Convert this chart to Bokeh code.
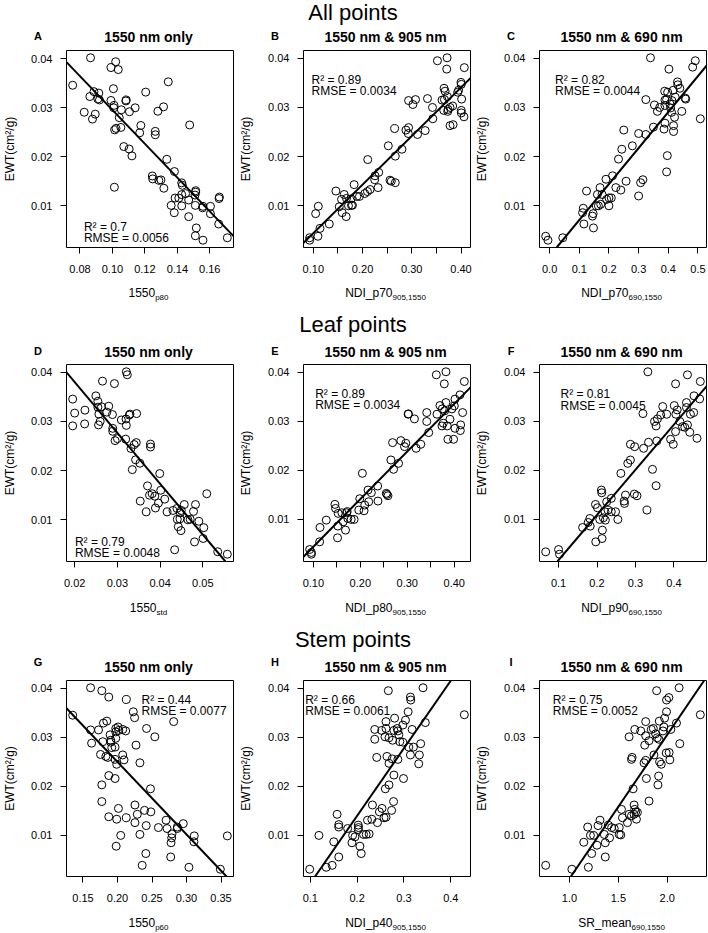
import html
from bokeh.plotting import figure
from bokeh.layouts import column, row
from bokeh.models import Range1d, FixedTicker, NumeralTickFormatter, Label, Slope, Div
from bokeh.embed import file_html
from bokeh.resources import INLINE

# ---------------- data ----------------
A_pts = [(0.0755,0.0346),(0.0865,0.0402),(0.0861,0.0323),(0.0886,0.0333),(0.0916,0.0330),(0.0920,0.0316),
         (0.0910,0.0318),(0.0826,0.0291),(0.0877,0.0277),(0.0894,0.0287),(0.0991,0.0382),(0.1020,0.0394),
         (0.1036,0.0378),(0.1006,0.0339),(0.0991,0.0315),(0.1010,0.0305),(0.1008,0.0300),(0.1085,0.0316),
         (0.1083,0.0314),(0.1055,0.0296),(0.1042,0.0280),(0.1105,0.0292),(0.1140,0.0300),(0.1014,0.0255),
         (0.1022,0.0258),(0.1052,0.0260),(0.1070,0.0221),(0.1103,0.0216),(0.1120,0.0202),(0.1012,0.0138),
         (0.1175,0.0264),(0.1168,0.0249),(0.1205,0.0332),(0.1315,0.0302),(0.1344,0.0353),(0.1280,0.0293),
         (0.1264,0.0252),(0.1264,0.0245),(0.1476,0.0265),(0.1335,0.0195),(0.1246,0.0161),(0.1248,0.0155),
         (0.1286,0.0152),(0.1299,0.0153),(0.1317,0.0136),(0.1382,0.0170),(0.1427,0.0147),(0.1431,0.0142),
         (0.1386,0.0116),(0.1409,0.0116),(0.1427,0.0123),(0.1451,0.0125),(0.1362,0.0101),(0.1381,0.0086),
         (0.1427,0.0100),(0.1470,0.0112),(0.1470,0.0078),(0.1513,0.0131),(0.1513,0.0128),(0.1509,0.0122),
         (0.1511,0.0101),(0.1556,0.0096),(0.1558,0.0099),(0.1604,0.0099),(0.1604,0.0084),(0.1657,0.0115),
         (0.1659,0.0118),(0.1655,0.0063),(0.1517,0.0055),(0.1511,0.0039),(0.1558,0.0030),(0.1708,0.0035)]

B_pts = [(0.0926,0.0030),(0.0926,0.0035),(0.1094,0.0038),(0.1135,0.0054),(0.1047,0.0084),(0.1101,0.0099),
         (0.1324,0.0063),(0.1458,0.0130),(0.1526,0.0098),(0.1586,0.0086),(0.1667,0.0078),(0.1573,0.0113),
         (0.1627,0.0123),(0.1674,0.0115),(0.1714,0.0100),(0.1775,0.0101),(0.1795,0.0101),(0.1768,0.0114),
         (0.1829,0.0143),(0.1883,0.0119),(0.1937,0.0119),(0.2045,0.0125),(0.2099,0.0129),(0.2153,0.0133),
         (0.2105,0.0194),(0.2247,0.0153),(0.2254,0.0161),(0.2328,0.0168),(0.2315,0.0137),(0.2557,0.0152),
         (0.2584,0.0150),(0.2665,0.0147),(0.2523,0.0222),(0.2651,0.0257),(0.2665,0.0201),(0.2800,0.0215),
         (0.2881,0.0254),(0.2935,0.0259),(0.2928,0.0247),(0.2935,0.0314),(0.3022,0.0306),(0.3076,0.0316),
         (0.3117,0.0245),(0.3272,0.0253),(0.3319,0.0318),(0.3420,0.0300),(0.3427,0.0277),(0.3521,0.0395),
         (0.3615,0.0315),(0.3656,0.0339),(0.3676,0.0333),(0.3663,0.0316),(0.3649,0.0294),(0.3717,0.0401),
         (0.3710,0.0378),(0.3723,0.0322),(0.3730,0.0292),(0.3737,0.0296),(0.3777,0.0300),(0.3777,0.0263),
         (0.3838,0.0265),(0.3831,0.0303),(0.3932,0.0331),(0.3952,0.0335),(0.3999,0.0351),(0.4006,0.0347),
         (0.4013,0.0317),(0.4006,0.0294),(0.4006,0.0289),(0.4060,0.0281),(0.4067,0.0381)]

C_pts = [(-0.0133,0.0038),(-0.0056,0.0030),(0.0444,0.0035),(0.1133,0.0095),(0.1111,0.0086),(0.1156,0.0063),
         (0.1244,0.0130),(0.1467,0.0084),(0.1444,0.0079),(0.1478,0.0055),(0.1611,0.0123),(0.1700,0.0137),
         (0.1578,0.0100),(0.1644,0.0100),(0.1722,0.0103),(0.1767,0.0123),(0.1900,0.0154),(0.1922,0.0113),
         (0.2000,0.0116),(0.2078,0.0116),(0.2000,0.0100),(0.2122,0.0161),(0.2233,0.0137),(0.2400,0.0132),
         (0.2578,0.0150),(0.2322,0.0195),(0.2433,0.0215),(0.2500,0.0254),(0.2789,0.0222),(0.3000,0.0120),
         (0.3067,0.0147),(0.3144,0.0153),(0.3000,0.0247),(0.3244,0.0245),(0.3244,0.0316),(0.3400,0.0401),
         (0.3500,0.0260),(0.3533,0.0305),(0.3633,0.0292),(0.3711,0.0300),(0.3856,0.0256),(0.3889,0.0268),
         (0.3889,0.0304),(0.3889,0.0315),(0.3878,0.0333),(0.3944,0.0316),(0.3978,0.0331),(0.4022,0.0378),
         (0.4056,0.0307),(0.4078,0.0299),(0.4111,0.0290),(0.4122,0.0314),(0.4167,0.0335),(0.4178,0.0251),
         (0.4178,0.0263),(0.4211,0.0280),(0.4233,0.0321),(0.4311,0.0352),(0.4322,0.0346),(0.4389,0.0339),
         (0.4456,0.0292),(0.4567,0.0319),(0.4589,0.0317),(0.3967,0.0202),(0.3944,0.0169),(0.4822,0.0382),
         (0.4911,0.0395),(0.5080,0.0277)]

D_pts = [(0.01953,0.03455),(0.0200,0.0317),(0.01953,0.0291),(0.02233,0.0295),(0.0224,0.0323),(0.02496,0.0352),
         (0.02543,0.0341),(0.02628,0.0330),(0.02543,0.0329),(0.02651,0.0382),(0.02558,0.0293),(0.02597,0.0300),
         (0.02566,0.0315),(0.02752,0.0319),(0.02798,0.0331),(0.02884,0.0314),(0.0293,0.0377),(0.02891,0.0286),
         (0.02891,0.0280),(0.02946,0.0261),(0.0300,0.0265),(0.03093,0.0303),(0.03202,0.0305),(0.03295,0.0315),
         (0.03209,0.0292),(0.03279,0.0313),(0.0345,0.0316),(0.03209,0.0401),(0.03232,0.0395),(0.03194,0.0264),
         (0.03318,0.0245),(0.03395,0.0253),(0.03442,0.0257),(0.03349,0.0202),(0.03426,0.0222),(0.03527,0.0215),
         (0.03775,0.0254),(0.03775,0.0248),(0.03992,0.0194),(0.04015,0.0160),(0.03705,0.0169),(0.03752,0.0150),
         (0.03814,0.0153),(0.03876,0.0148),(0.03535,0.0138),(0.03674,0.0116),(0.03891,0.0124),(0.03961,0.0134),
         (0.04108,0.0142),(0.04163,0.0116),(0.04302,0.0119),(0.04395,0.0123),(0.04473,0.0114),(0.04496,0.0119),
         (0.04566,0.0131),(0.04403,0.0101),(0.04465,0.0102),(0.04426,0.0086),(0.04488,0.0078),(0.04651,0.0100),
         (0.04705,0.0101),(0.04783,0.0117),(0.04829,0.0131),(0.04907,0.0097),(0.05023,0.0084),(0.05007,0.0062),
         (0.04806,0.0055),(0.04341,0.0039),(0.05093,0.0153),(0.05349,0.0035),(0.05574,0.0030)]

E_pts = [(0.0922,0.00386),(0.0958,0.00325),(0.0958,0.0029),(0.1134,0.00543),(0.1141,0.00836),(0.1275,0.00986),
         (0.1515,0.00625),(0.1522,0.00864),(0.1459,0.01307),(0.1473,0.01225),(0.1529,0.01123),(0.1607,0.01136),
         (0.1635,0.00952),(0.1685,0.00782),(0.1720,0.01157),(0.1734,0.0102),(0.1805,0.0100),(0.1868,0.0100),
         (0.1706,0.01136),(0.1967,0.01191),(0.1988,0.01423),(0.2080,0.01177),(0.2094,0.01293),(0.2179,0.01361),
         (0.2164,0.0160),(0.2235,0.01545),(0.2369,0.01682),(0.2376,0.01375),(0.2044,0.01941),(0.2553,0.01532),
         (0.2567,0.01511),(0.2588,0.01484),(0.2651,0.02214),(0.2687,0.02568),(0.2708,0.02023),(0.2814,0.02145),
         (0.2863,0.02609),(0.2941,0.02486),(0.2969,0.02555),(0.3018,0.03148),(0.3025,0.03155),(0.3152,0.03052),
         (0.3188,0.02452),(0.3287,0.02534),(0.3414,0.03182),(0.3414,0.0300),(0.3456,0.02773),(0.3618,0.03952),
         (0.3632,0.03148),(0.3696,0.03325),(0.3745,0.03257),(0.3738,0.02909),(0.3766,0.02964),(0.3788,0.03768),
         (0.3823,0.04014),(0.3795,0.03216),(0.3823,0.03386),(0.3851,0.02909),(0.3865,0.02636),(0.3908,0.03045),
         (0.3950,0.03257),(0.3986,0.02636),(0.4001,0.03318),(0.4015,0.03455),(0.4015,0.02861),(0.4122,0.03543),
         (0.4136,0.0293),(0.4129,0.02814),(0.4178,0.03182),(0.4214,0.03816)]

F_pts = [(0.0666,0.00339),(0.1000,0.00386),(0.1026,0.00291),(0.1626,0.00836),(0.1771,0.00939),(0.1814,0.0102),
         (0.1823,0.00864),(0.1960,0.01307),(0.2011,0.01239),(0.1968,0.00543),(0.2071,0.0100),(0.2114,0.0160),
         (0.2123,0.01545),(0.2140,0.00782),(0.2131,0.00611),(0.2165,0.01034),(0.2217,0.00986),(0.2208,0.01157),
         (0.2251,0.01361),(0.2285,0.01191),(0.2371,0.01157),(0.2371,0.01430),(0.2482,0.01157),(0.2542,0.0100),
         (0.2620,0.01941),(0.2705,0.01375),(0.2714,0.01327),(0.2740,0.01498),(0.2800,0.02145),(0.2868,0.02214),
         (0.2868,0.02534),(0.2979,0.02486),(0.2971,0.01518),(0.3039,0.01484),(0.3297,0.01191),(0.3194,0.03161),
         (0.3211,0.02452),(0.3339,0.02575),(0.3322,0.04014),(0.3442,0.02023),(0.3536,0.01689),(0.3494,0.0300),
         (0.3536,0.02909),(0.3571,0.03052),(0.3656,0.03134),(0.3708,0.03305),(0.3811,0.03148),(0.3554,0.02602),
         (0.3913,0.02636),(0.3982,0.02534),(0.4008,0.03325),(0.4042,0.03768),(0.4050,0.03148),(0.4042,0.02793),
         (0.4085,0.03236),(0.4153,0.0300),(0.4222,0.02895),(0.4282,0.02882),(0.4325,0.03386),(0.4325,0.03284),
         (0.4351,0.03952),(0.4351,0.0293),(0.4411,0.0278),(0.4428,0.03148),(0.4513,0.03182),(0.4522,0.03523),
         (0.4599,0.02657),(0.4668,0.03461),(0.4685,0.03816)]

G_pts = [(0.1351,0.0345),(0.1610,0.0401),(0.1773,0.0395),(0.1874,0.0382),(0.2128,0.0377),(0.2229,0.0352),
         (0.2248,0.0340),(0.2814,0.0332),(0.1610,0.0315),(0.1725,0.0315),(0.1625,0.0288),(0.1797,0.0329),
         (0.1845,0.0333),(0.1787,0.0291),(0.1893,0.0305),(0.1903,0.0294),(0.1903,0.0290),(0.1917,0.0279),
         (0.1965,0.0280),(0.1975,0.0298),(0.1975,0.0311),(0.2009,0.0321),(0.2018,0.0314),(0.2076,0.0316),
         (0.2119,0.0313),(0.1975,0.0318),(0.1754,0.0265),(0.1831,0.0261),(0.1860,0.0259),(0.1965,0.0255),
         (0.1989,0.0245),(0.2076,0.0264),(0.2095,0.0254),(0.2268,0.0284),(0.2325,0.0248),(0.2421,0.0318),
         (0.2541,0.0301),(0.1874,0.0222),(0.1965,0.0216),(0.1773,0.0203),(0.1773,0.0169),(0.2478,0.0195),
         (0.1874,0.0138),(0.2014,0.0155),(0.1989,0.0133),(0.2128,0.0136),(0.2253,0.0162),(0.2287,0.0143),
         (0.2392,0.0151),(0.2483,0.0148),(0.2253,0.0126),(0.2416,0.0120),(0.2325,0.0102),(0.2047,0.0100),
         (0.1981,0.0078),(0.2593,0.0116),(0.2704,0.0131),(0.2718,0.0114),(0.2790,0.0103),(0.2785,0.0095),
         (0.2776,0.0085),(0.2771,0.0056),(0.2867,0.0117),(0.2867,0.0114),(0.2953,0.0124),(0.3112,0.0099),
         (0.3107,0.0087),(0.2411,0.0063),(0.2358,0.0039),(0.3035,0.0035),(0.3490,0.0031),(0.3591,0.0099)]

H_pts = [(0.0986,0.0031),(0.1339,0.0035),(0.1466,0.0039),(0.1183,0.0100),(0.1607,0.0056),(0.1501,0.0087),
         (0.1572,0.0143),(0.1607,0.0122),(0.1607,0.0117),(0.1797,0.0114),(0.1889,0.0085),(0.1903,0.0100),
         (0.1953,0.0097),(0.2023,0.0121),(0.2030,0.0116),(0.2023,0.0112),(0.2059,0.0078),(0.2087,0.0063),
         (0.2136,0.0102),(0.2193,0.0102),(0.2256,0.0103),(0.2221,0.0131),(0.2313,0.0133),(0.2327,0.0162),
         (0.2433,0.0126),(0.2475,0.0148),(0.2531,0.0155),(0.2574,0.0136),(0.2616,0.0137),(0.2736,0.0151),
         (0.2778,0.0169),(0.2602,0.0195),(0.2680,0.0203),(0.2785,0.0223),(0.2990,0.0216),(0.2376,0.0316),
         (0.2376,0.0296),(0.2418,0.0259),(0.2524,0.0314),(0.2616,0.0332),(0.2616,0.0318),(0.2595,0.0301),
         (0.2666,0.0395),(0.2680,0.0299),(0.2757,0.0294),(0.2800,0.0339),(0.2785,0.0314),(0.2856,0.0318),
         (0.2870,0.0313),(0.2891,0.0305),(0.2912,0.0291),(0.2637,0.0261),(0.2680,0.0247),(0.2870,0.0255),
         (0.2750,0.0256),(0.2976,0.0325),(0.3032,0.0335),(0.3089,0.0352),(0.2976,0.0290),(0.3103,0.0280),
         (0.3138,0.0264),(0.3174,0.0316),(0.3202,0.0280),(0.3138,0.0382),(0.3145,0.0376),(0.3315,0.0246),
         (0.3329,0.0264),(0.3357,0.0287),(0.3407,0.0401),(0.3456,0.0330),(0.4289,0.0346)]

I_pts = [(0.756,0.0039),(1.024,0.0031),(1.193,0.0035),(1.186,0.0117),(1.146,0.0086),(1.214,0.0100),
         (1.247,0.0100),(1.227,0.0063),(1.281,0.0080),(1.292,0.0120),(1.312,0.0131),(1.356,0.0102),
         (1.366,0.0085),(1.366,0.0056),(1.397,0.0121),(1.410,0.0095),(1.431,0.0116),(1.458,0.0114),
         (1.509,0.0102),(1.525,0.0101),(1.509,0.0116),(1.532,0.0153),(1.542,0.0136),(1.593,0.0126),
         (1.610,0.0143),(1.634,0.0140),(1.661,0.0162),(1.668,0.0153),(1.678,0.0148),(1.661,0.0143),
         (1.685,0.0133),(1.695,0.0147),(1.651,0.0195),(1.610,0.0301),(1.634,0.0255),(1.641,0.0259),
         (1.668,0.0316),(1.729,0.0313),(1.780,0.0332),(1.780,0.0303),(1.770,0.0284),(1.814,0.0293),
         (1.763,0.0248),(1.780,0.0253),(1.787,0.0216),(1.814,0.0170),(1.837,0.0316),(1.858,0.0318),
         (1.881,0.0307),(1.898,0.0299),(1.892,0.0395),(1.864,0.0264),(1.915,0.0296),(1.919,0.0333),
         (1.922,0.0250),(1.939,0.0245),(1.912,0.0221),(1.905,0.0203),(1.966,0.0321),(1.973,0.0339),
         (1.956,0.0313),(1.993,0.0352),(1.993,0.0376),(2.017,0.0381),(1.990,0.0268),(2.020,0.0269),
         (2.027,0.0254),(2.037,0.0316),(2.095,0.0329),(2.122,0.0401),(2.129,0.0287),(2.339,0.0346)]

panel_points = [A_pts, B_pts, C_pts, D_pts, E_pts, F_pts, G_pts, H_pts, I_pts]

section_titles = ["All points", "Leaf points", "Stem points"]
letters = ["A", "B", "C", "D", "E", "F", "G", "H", "I"]
panel_titles = ["1550 nm only", "1550 nm & 905 nm", "1550 nm & 690 nm"] * 3
xlab_main = ["1550", "NDI_p70", "NDI_p70", "1550", "NDI_p80", "NDI_p90", "1550", "NDI_p40", "SR_mean"]
xlab_sub = ["p80", "905,1550", "690,1550", "std", "905,1550", "690,1550", "p60", "905,1550", "690,1550"]
ylab = "EWT(cm²/g)"
r2_vals = ["0.7", "0.89", "0.82", "0.79", "0.89", "0.81", "0.44", "0.66", "0.75"]
rmse_vals = ["0.0056", "0.0034", "0.0044", "0.0048", "0.0034", "0.0045", "0.0077", "0.0061", "0.0052"]
fit_slope = [-0.3448, 0.0988, 0.0732, -1.0336, 0.09725, 0.09223, -0.1479, 0.1377, 0.02929]
fit_intercept = [0.06404, -0.00545, -0.00022, 0.05867, -0.00530, -0.00752, 0.05456, -0.01354, -0.02808]

x_ticks = [[0.08, 0.10, 0.12, 0.14, 0.16], [0.1, 0.2, 0.3, 0.4], [0.0, 0.1, 0.2, 0.3, 0.4, 0.5],
           [0.02, 0.03, 0.04, 0.05], [0.1, 0.2, 0.3, 0.4], [0.1, 0.2, 0.3, 0.4],
           [0.15, 0.20, 0.25, 0.30, 0.35], [0.1, 0.2, 0.3, 0.4], [1.0, 1.5, 2.0]]
x_minor = [[], [0.15, 0.25, 0.35], [], [], [0.15, 0.25, 0.35], [], [], [], []]
x_fmt = ["0.00", "0.00", "0.0", "0.00", "0.00", "0.0", "0.00", "0.0", "0.0"]
y_ticks = [0.01, 0.02, 0.03, 0.04]

# ---------------- layout / style ----------------
FONT = "Liberation Sans"
PAGE_W = 708
COL_W = [236, 236, 236]
COL_L = [64, 65, 65]
COL_R = [3, 2, 2]
YLAB_STANDOFF = [11, 12, 12]
ROW_FH = [197, 197, 196]
FIG_T, FIG_B = 3, 32
STRIP_H = [47, 82, 84, 25]
COL_CENTER = [148.5, 385.5, 621.5]
LETTER_X = [38, 275, 511]
SECTION_X = 353
# baselines inside the strips
SECTION_BASE = [20.5, 54, 55]
TITLE_BASE = [41.7, 77.7, 78.7]
LETTER_BASE = [40.7, 76.7, 73.7]
XLAB_BASE = [18.5, 19.5, 18.7]
# statistics text: x offset, anchor ('b' from bottom / 't' from top), R2 baseline, RMSE baseline
STATS = [(17.4, "b", 21, 9.4), (8, "t", 29, 40.7), (15.6, "t", 29, 40.7),
         (8.4, "b", 20, 8.4), (11.7, "t", 29.7, 40.7), (21, "t", 29.7, 41.4),
         (75, "t", 19, 30.7), (1.7, "t", 19, 30.7), (13.3, "t", 19, 30.7)]


def padded(vals):
    lo, hi = min(vals), max(vals)
    d = (hi - lo) * 0.04
    return Range1d(lo - d, hi + d)


def item(content, x, base, size, weight="normal", center=True):
    top = base - 0.8465 * size
    tr = "translateX(-50%)" if center else "none"
    return ('<div style="position:absolute;left:%.1fpx;top:%.2fpx;font-size:%dpx;line-height:%dpx;'
            'font-weight:%s;white-space:nowrap;transform:%s;">%s</div>'
            % (x, top, size, size, weight, tr, content))


def strip(h, items):
    inner = ('<div style="position:relative;width:%dpx;height:%dpx;font-family:\'Liberation Sans\';'
             'color:#000;">' % (PAGE_W, h)) + "".join(items) + "</div>"
    return Div(text=inner, width=PAGE_W, height=h, margin=(0, 0, 0, 0),
               styles={"padding": "0px", "overflow": "visible"})


def xlabel_html(k):
    return (html.escape(xlab_main[k]) +
            '<span style="font-size:8px;line-height:0;vertical-align:-3px;">%s</span>'
            % html.escape(xlab_sub[k]))


def lab(p, text, x, y, size):
    p.add_layout(Label(x=x, y=y, x_units="screen", y_units="screen", text=text,
                       text_font=FONT, text_font_size=size, text_align="left",
                       text_baseline="alphabetic", text_color="black"))


def make_panel(k):
    r, c = divmod(k, 3)
    W, L, R = COL_W[c], COL_L[c], COL_R[c]
    fh = ROW_FH[r]
    H = FIG_T + fh + FIG_B
    xs = [pt[0] for pt in panel_points[k]]
    ys = [pt[1] for pt in panel_points[k]]
    p = figure(width=W, height=H, x_range=padded(xs), y_range=padded(ys),
               output_backend="svg", toolbar_location=None, title=None,
               min_border_left=L, min_border_right=R, min_border_top=FIG_T, min_border_bottom=FIG_B)
    p.background_fill_color = "white"
    p.border_fill_color = "white"
    p.outline_line_color = "black"
    p.outline_line_width = 1
    p.outline_line_alpha = 1
    p.xgrid.grid_line_color = None
    p.ygrid.grid_line_color = None

    xa, ya = p.xaxis[0], p.yaxis[0]
    xa.ticker = FixedTicker(ticks=x_ticks[k], minor_ticks=x_minor[k])
    xa.formatter = NumeralTickFormatter(format=x_fmt[k])
    ya.ticker = FixedTicker(ticks=y_ticks, minor_ticks=[])
    ya.formatter = NumeralTickFormatter(format="0.00")
    for ax in (xa, ya):
        ax.axis_line_color = None
        ax.major_tick_out = 6
        ax.major_tick_in = 0
        ax.minor_tick_out = 6
        ax.minor_tick_in = 0
        ax.major_tick_line_color = "black"
        ax.minor_tick_line_color = "black"
        ax.major_label_text_font = FONT
        ax.major_label_text_font_size = "11px"
        ax.major_label_text_color = "black"
    xa.major_label_standoff = 11
    ya.major_label_standoff = 8
    ya.axis_label = ylab
    ya.axis_label_text_font = FONT
    ya.axis_label_text_font_size = "12px"
    ya.axis_label_text_font_style = "normal"
    ya.axis_label_text_color = "black"
    ya.axis_label_standoff = YLAB_STANDOFF[c]

    p.scatter(xs, ys, marker="circle", size=8, fill_color=None,
              line_color="black", line_width=1)
    p.add_layout(Slope(gradient=fit_slope[k], y_intercept=fit_intercept[k],
                       line_color="black", line_width=2))

    sx, anchor, y1, y2 = STATS[k]
    if anchor == "b":
        yr2, yrm = y1, y2
    else:
        yr2, yrm = fh - y1, fh - y2
    lab(p, "R² = " + r2_vals[k], sx, yr2, "12px")
    lab(p, "RMSE = " + rmse_vals[k], sx, yrm, "12px")
    return p


figs = [make_panel(k) for k in range(9)]

strips = []
for s in range(4):
    items = []
    if s > 0:  # x labels of the row above
        for c in range(3):
            items.append(item(xlabel_html((s - 1) * 3 + c), COL_CENTER[c], XLAB_BASE[s - 1], 12))
    if s < 3:  # section title, letters and panel titles of the row below
        items.append(item(html.escape(section_titles[s]), SECTION_X, SECTION_BASE[s], 22))
        for c in range(3):
            k = s * 3 + c
            items.append(item(html.escape(letters[k]), LETTER_X[c], LETTER_BASE[s], 11, "bold"))
            items.append(item(html.escape(panel_titles[k]), COL_CENTER[c], TITLE_BASE[s], 14, "bold"))
    strips.append(strip(STRIP_H[s], items))

layout = column(strips[0], row(figs[0], figs[1], figs[2]),
                strips[1], row(figs[3], figs[4], figs[5]),
                strips[2], row(figs[6], figs[7], figs[8]),
                strips[3])

open("out.html", "w").write(file_html(layout, INLINE))
